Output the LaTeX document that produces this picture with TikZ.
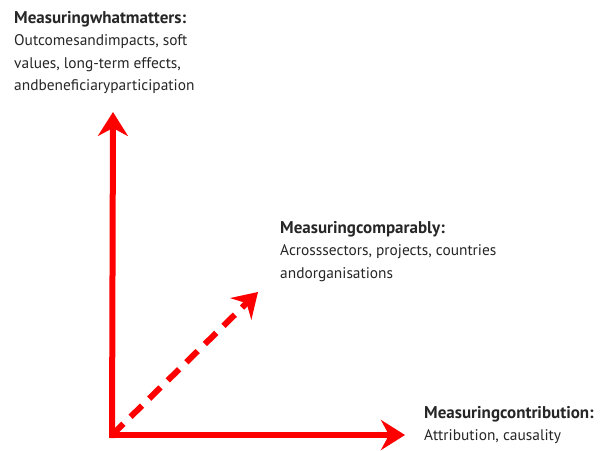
\documentclass[tikz,border=0pt]{standalone}
\usepackage{fontspec}
\setmainfont{PT Sans}
\usetikzlibrary{arrows.meta, calc}
\definecolor{axisred}{RGB}{255,0,0}
\newcommand{\headline}[1]{{\fontsize{17pt}{22pt}\selectfont\bfseries #1}}
\tikzstyle{axis} = [draw=axisred, line width=6pt, -{Stealth[length=24pt, width=30pt, inset=8pt]}]
\tikzstyle{label} = [anchor=north west, inner sep=0pt, align=left, font=\fontsize{15.4pt}{22.5pt}\selectfont, text=black!85]

\begin{document}
\begin{tikzpicture}[x=1pt, y=1pt]
    \useasboundingbox (0,0) rectangle (609,450);
    \coordinate (o) at (112,15);
    \coordinate (up) at (113,338);
    \coordinate (right) at (405,15);
    \coordinate (diag) at (258,158);
    \node (what) [label] at (14,439) {\headline{Measuringwhatmatters:}\\Outcomesandimpacts, soft\\values, long-term effects,\\andbeneficiaryparticipation};
    \node (comp) [label] at (280,229) {\headline{Measuringcomparably:}\\Acrosssectors, projects, countries\\andorganisations};
    \node (contrib) [label] at (424,44) {\headline{Measuringcontribution:}\\Attribution, causality};
    \draw [axis] ($(o)+(0,-3)$) -- (up);
    \draw [axis] ($(o)+(-3,0)$) -- (right);
    \draw [axis, dash pattern=on 16pt off 10pt] (o) -- (diag);
\end{tikzpicture}
\end{document}
